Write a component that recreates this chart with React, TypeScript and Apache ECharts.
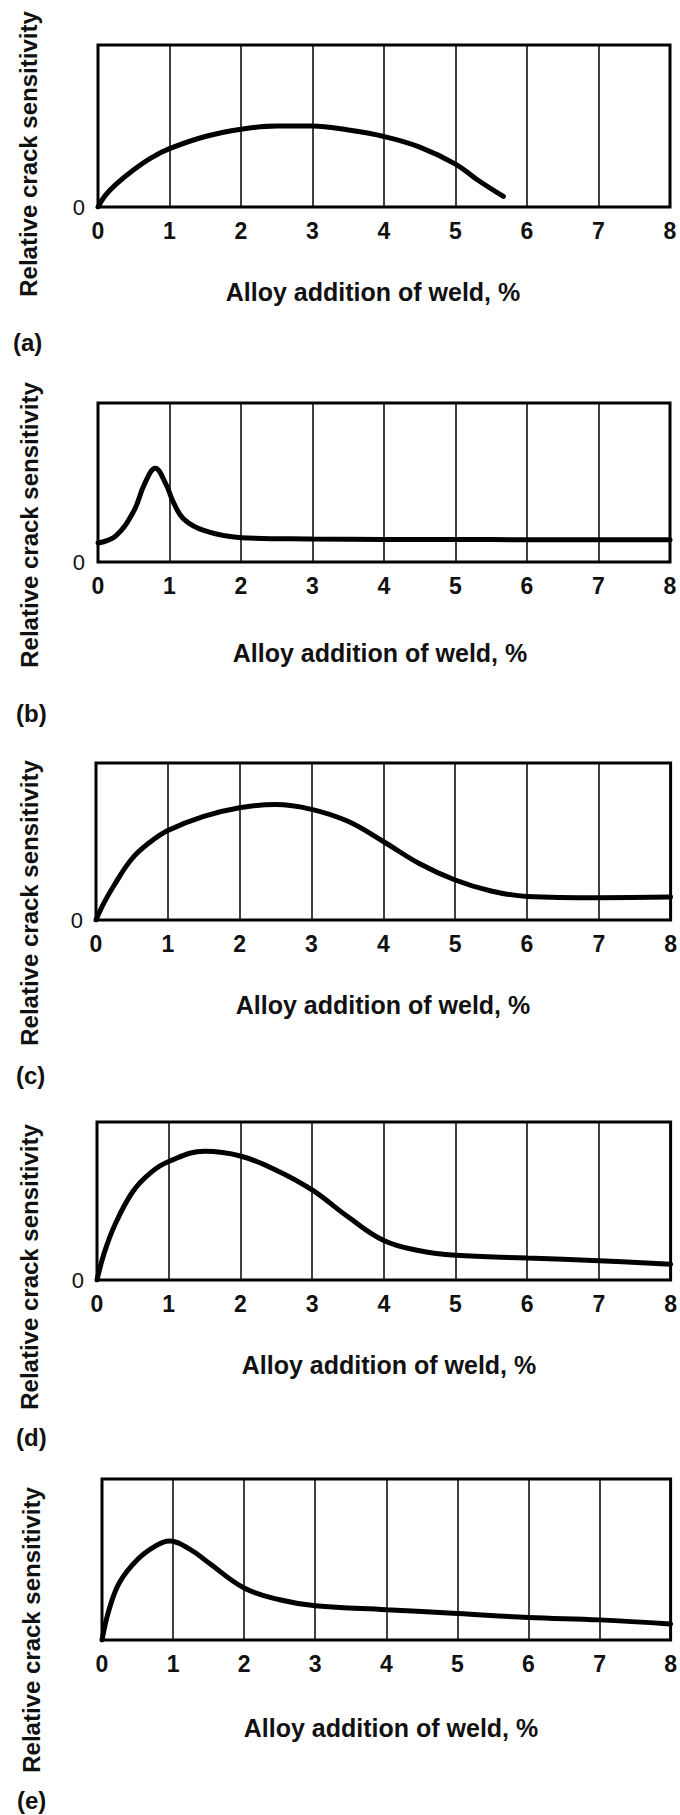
import React, { useEffect, useRef } from "react";
import * as echarts from "echarts";

// ---- data ----
const xTickValues = [0, 1, 2, 3, 4, 5, 6, 7, 8];
const panelLabels = ["(a)", "(b)", "(c)", "(d)", "(e)"];
const xAxisTitle = "Alloy addition of weld, %";
const yAxisTitle = "Relative crack sensitivity";
const yZeroLabel = "0";

const curveA: number[][] = [
  [0, 0], [0.1, 7], [0.25, 14], [0.5, 23], [0.75, 30.5], [1, 36], [1.5, 43.5], [2, 48], [2.5, 50],
  [3, 50], [3.5, 47.5], [4, 43.5], [4.5, 37], [5, 26.5], [5.3, 17], [5.67, 6.5],
];
const curveB: number[][] = [
  [0, 12], [0.25, 16.5], [0.5, 32], [0.65, 49], [0.8, 59], [0.95, 49], [1.05, 38],
  [1.2, 27], [1.5, 19.5], [2, 15.3], [3, 14.5], [4, 14.2], [5, 14.2], [6, 14], [7, 14], [8, 14],
];
const curveC: number[][] = [
  [0, 0], [0.1, 10], [0.25, 22], [0.5, 39], [0.75, 49.5], [1, 57], [1.5, 66], [2, 71.5], [2.5, 73.5],
  [3, 70.5], [3.5, 63], [4, 50], [4.5, 36], [5, 25.5], [5.5, 18.5], [6, 15], [7, 14.2], [8, 14.6],
];
const curveD: number[][] = [
  [0, 0], [0.1, 17], [0.25, 35], [0.5, 56], [0.75, 68], [1, 75], [1.5, 81.5], [2, 78.5],
  [2.5, 69.5], [3, 57], [3.5, 40], [4, 25], [4.5, 18.5], [5, 15.6], [6, 13.9], [7, 12.2], [8, 10],
];
const curveE: number[][] = [
  [0, 0], [0.1, 19], [0.25, 36], [0.5, 50], [0.75, 58.3], [0.95, 61.5], [1.25, 56], [1.5, 48],
  [2, 32.3], [2.5, 25], [3, 21.3], [4, 18.8], [5, 16.5], [6, 14], [7, 12.5], [8, 10],
];
const curves = [curveA, curveB, curveC, curveD, curveE];
const showYZero = [true, true, true, true, false];

// ---- layout ----
const FONT = "'Liberation Sans', Arial, Helvetica, sans-serif";
const grids = [
  { left: 98, top: 45, width: 572, height: 162 },
  { left: 98, top: 403, width: 572, height: 159 },
  { left: 96, top: 763, width: 576, height: 157 },
  { left: 97, top: 1122, width: 576, height: 158 },
  { left: 102, top: 1479, width: 576, height: 161 },
];
const xTitlePos = [[373, 292], [380, 653], [383, 1005], [389, 1365], [391, 1728]];
const yTitlePos = [[28, 154], [29, 525], [29, 903], [29, 1267], [31, 1630]];
const labelPos = [[13, 342], [16, 713], [16, 1075], [16, 1437], [17, 1800]];

export default function App() {
  const ref = useRef<HTMLDivElement>(null);
  useEffect(() => {
    if (!ref.current) return;
    const chart = echarts.init(ref.current, undefined, { renderer: "svg" });
    const option: any = {
      animation: false,
      backgroundColor: "#fff",
      grid: grids.map((g) => ({
        ...g,
        show: true,
        borderColor: "#000",
        borderWidth: 3,
        backgroundColor: "transparent",
        containLabel: false,
      })),
      xAxis: grids.map((_, i) => ({
        type: "value",
        gridIndex: i,
        min: xTickValues[0],
        max: xTickValues[xTickValues.length - 1],
        interval: 1,
        axisLine: { show: false },
        axisTick: { show: false },
        splitLine: { show: true, lineStyle: { color: "#000", width: 1.5 } },
        axisLabel: {
          color: "#111",
          fontSize: 23,
          fontWeight: "bold",
          fontFamily: FONT,
          margin: 12,
          showMinLabel: true,
          showMaxLabel: true,
        },
      })),
      yAxis: grids.map((_, i) => ({
        type: "value",
        gridIndex: i,
        min: 0,
        max: 100,
        interval: 100,
        axisLine: { show: false },
        axisTick: { show: false },
        splitLine: { show: false },
        axisLabel: {
          show: showYZero[i],
          formatter: (v: number) => (v === 0 ? yZeroLabel : ""),
          color: "#111",
          fontSize: 22,
          fontFamily: FONT,
          margin: 13,
        },
      })),
      series: curves.map((c, i) => ({
        type: "line",
        xAxisIndex: i,
        yAxisIndex: i,
        data: c,
        smooth: 0.4,
        symbol: "none",
        clip: true,
        lineStyle: { color: "#000", width: 5, cap: "round" },
        z: 3,
      })),
      graphic: [
        ...xTitlePos.map(([x, y]) => ({
          type: "text",
          x,
          y,
          style: {
            text: xAxisTitle,
            fill: "#111",
            font: `bold 25px ${FONT}`,
            textAlign: "center",
            textVerticalAlign: "middle",
          },
        })),
        ...yTitlePos.map(([x, y]) => ({
          type: "text",
          x,
          y,
          rotation: Math.PI / 2,
          style: {
            text: yAxisTitle,
            fill: "#111",
            font: `bold 24px ${FONT}`,
            textAlign: "center",
            textVerticalAlign: "middle",
          },
        })),
        ...labelPos.map(([x, y], i) => ({
          type: "text",
          x,
          y,
          style: {
            text: panelLabels[i],
            fill: "#111",
            font: `bold 24px ${FONT}`,
            textAlign: "left",
            textVerticalAlign: "middle",
          },
        })),
      ],
    };
    chart.setOption(option);
    return () => chart.dispose();
  }, []);
  return (
    <div
      ref={ref}
      style={{ position: "absolute", left: 0, top: 0, width: 680, height: 1815, background: "#fff" }}
    />
  );
}
